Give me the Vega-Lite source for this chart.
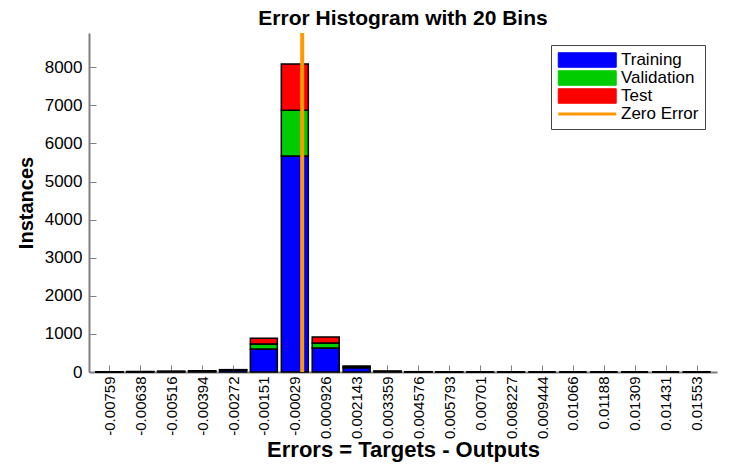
{
  "$schema": "https://vega.github.io/schema/vega-lite/v6.json",
  "autosize": "none",
  "width": 628,
  "height": 339,
  "padding": {"left": 89, "top": 33, "right": 21, "bottom": 98},
  "background": "white",
  "config": {
    "view": {"stroke": null},
    "font": "Liberation Sans"
  },
  "title": {
    "text": "Error Histogram with 20 Bins",
    "font": "Liberation Sans",
    "fontSize": 21,
    "fontWeight": "bold",
    "color": "black",
    "offset": 2
  },
  "datasets": {
    "bins": [
      {"x": -0.00759, "set": "Training", "count": 6, "ord": 1},
      {"x": -0.00759, "set": "Validation", "count": 1, "ord": 2},
      {"x": -0.00759, "set": "Test", "count": 1, "ord": 3},
      {"x": -0.00638, "set": "Training", "count": 7, "ord": 1},
      {"x": -0.00638, "set": "Validation", "count": 2, "ord": 2},
      {"x": -0.00638, "set": "Test", "count": 1, "ord": 3},
      {"x": -0.00516, "set": "Training", "count": 12, "ord": 1},
      {"x": -0.00516, "set": "Validation", "count": 3, "ord": 2},
      {"x": -0.00516, "set": "Test", "count": 2, "ord": 3},
      {"x": -0.00394, "set": "Training", "count": 22, "ord": 1},
      {"x": -0.00394, "set": "Validation", "count": 5, "ord": 2},
      {"x": -0.00394, "set": "Test", "count": 5, "ord": 3},
      {"x": -0.00272, "set": "Training", "count": 45, "ord": 1},
      {"x": -0.00272, "set": "Validation", "count": 9, "ord": 2},
      {"x": -0.00272, "set": "Test", "count": 8, "ord": 3},
      {"x": -0.00151, "set": "Training", "count": 604, "ord": 1},
      {"x": -0.00151, "set": "Validation", "count": 131, "ord": 2},
      {"x": -0.00151, "set": "Test", "count": 149, "ord": 3},
      {"x": -0.00029, "set": "Training", "count": 5670, "ord": 1},
      {"x": -0.00029, "set": "Validation", "count": 1200, "ord": 2},
      {"x": -0.00029, "set": "Test", "count": 1215, "ord": 3},
      {"x": 0.000926, "set": "Training", "count": 630, "ord": 1},
      {"x": 0.000926, "set": "Validation", "count": 131, "ord": 2},
      {"x": 0.000926, "set": "Test", "count": 158, "ord": 3},
      {"x": 0.002143, "set": "Training", "count": 110, "ord": 1},
      {"x": 0.002143, "set": "Validation", "count": 22, "ord": 2},
      {"x": 0.002143, "set": "Test", "count": 25, "ord": 3},
      {"x": 0.003359, "set": "Training", "count": 15, "ord": 1},
      {"x": 0.003359, "set": "Validation", "count": 3, "ord": 2},
      {"x": 0.003359, "set": "Test", "count": 3, "ord": 3},
      {"x": 0.004576, "set": "Training", "count": 6, "ord": 1},
      {"x": 0.004576, "set": "Validation", "count": 1, "ord": 2},
      {"x": 0.004576, "set": "Test", "count": 1, "ord": 3},
      {"x": 0.005793, "set": "Training", "count": 2, "ord": 1},
      {"x": 0.005793, "set": "Validation", "count": 0, "ord": 2},
      {"x": 0.005793, "set": "Test", "count": 1, "ord": 3},
      {"x": 0.00701, "set": "Training", "count": 1, "ord": 1},
      {"x": 0.00701, "set": "Validation", "count": 0, "ord": 2},
      {"x": 0.00701, "set": "Test", "count": 0, "ord": 3},
      {"x": 0.008227, "set": "Training", "count": 1, "ord": 1},
      {"x": 0.008227, "set": "Validation", "count": 0, "ord": 2},
      {"x": 0.008227, "set": "Test", "count": 0, "ord": 3},
      {"x": 0.009444, "set": "Training", "count": 0, "ord": 1},
      {"x": 0.009444, "set": "Validation", "count": 0, "ord": 2},
      {"x": 0.009444, "set": "Test", "count": 0, "ord": 3},
      {"x": 0.01066, "set": "Training", "count": 0, "ord": 1},
      {"x": 0.01066, "set": "Validation", "count": 0, "ord": 2},
      {"x": 0.01066, "set": "Test", "count": 0, "ord": 3},
      {"x": 0.01188, "set": "Training", "count": 0, "ord": 1},
      {"x": 0.01188, "set": "Validation", "count": 0, "ord": 2},
      {"x": 0.01188, "set": "Test", "count": 0, "ord": 3},
      {"x": 0.01309, "set": "Training", "count": 0, "ord": 1},
      {"x": 0.01309, "set": "Validation", "count": 0, "ord": 2},
      {"x": 0.01309, "set": "Test", "count": 0, "ord": 3},
      {"x": 0.01431, "set": "Training", "count": 0, "ord": 1},
      {"x": 0.01431, "set": "Validation", "count": 0, "ord": 2},
      {"x": 0.01431, "set": "Test", "count": 0, "ord": 3},
      {"x": 0.01553, "set": "Training", "count": 1, "ord": 1},
      {"x": 0.01553, "set": "Validation", "count": 0, "ord": 2},
      {"x": 0.01553, "set": "Test", "count": 0, "ord": 3}
    ],
    "zero": [{"x": 0, "set": "Zero Error"}]
  },
  "encoding": {
    "x": {
      "field": "x",
      "type": "quantitative",
      "scale": {"domain": [-0.0081984, 0.0161384], "nice": false, "zero": false},
      "axis": {
        "values": [-0.00759, -0.00638, -0.00516, -0.00394, -0.00272, -0.00151, -0.00029, 0.000926, 0.002143, 0.003359, 0.004576, 0.005793, 0.00701, 0.008227, 0.009444, 0.01066, 0.01188, 0.01309, 0.01431, 0.01553],
        "labelExpr": "'' + datum.value",
        "labelAngle": -90,
        "labelAlign": "right",
        "labelBaseline": "middle",
        "labelFont": "Liberation Sans",
        "labelFontSize": 15,
        "labelColor": "black",
        "labelPadding": 11,
        "labelOverlap": false,
        "labelFlush": false,
        "labelBound": false,
        "labelLimit": 200,
        "tickSize": -7,
        "tickColor": "#808080",
        "domainColor": "#808080",
        "domainWidth": 2,
        "grid": false,
        "title": "Errors = Targets - Outputs",
        "titleFont": "Liberation Sans",
        "titleFontSize": 22,
        "titleFontWeight": "bold",
        "titleColor": "black",
        "titlePadding": 1
      }
    },
    "color": {
      "field": "set",
      "type": "nominal",
      "scale": {
        "domain": ["Training", "Validation", "Test", "Zero Error"],
        "range": ["#0000ff", "#00cc00", "#ff0000", "#ff9900"]
      },
      "legend": {
        "title": null,
        "orient": "top-right",
        "offset": 12,
        "padding": 6,
        "fillColor": "white",
        "strokeColor": "#444444",
        "labelFont": "Liberation Sans",
        "labelFontSize": 17,
        "labelColor": "black",
        "labelOffset": 47,
        "rowPadding": 0,
        "clipHeight": 18,
        "symbolSize": 210,
        "symbolType": "M-1,-1H7V1H-1Z",
        "encode": {
          "symbols": {
            "update": {
              "shape": {"signal": "datum.value === 'Zero Error' ? 'M-1,0H7' : 'M-1,-1H7V1H-1Z'"},
              "stroke": {"signal": "datum.value === 'Zero Error' ? '#ff9900' : 'black'"},
              "strokeWidth": {"signal": "datum.value === 'Zero Error' ? 3 : 1"},
              "opacity": {"value": 1}
            }
          }
        }
      }
    }
  },
  "layer": [
    {
      "data": {"name": "bins"},
      "mark": {"type": "bar", "width": 27, "stroke": "black", "strokeWidth": 1.5},
      "encoding": {
        "y": {
          "field": "count",
          "type": "quantitative",
          "stack": "zero",
          "scale": {"domain": [0, 8900], "nice": false},
          "axis": {
            "values": [0, 1000, 2000, 3000, 4000, 5000, 6000, 7000, 8000],
            "format": "d",
            "labelFont": "Liberation Sans",
            "labelFontSize": 17,
            "labelColor": "black",
            "labelPadding": 14,
            "tickSize": -7,
            "tickColor": "#808080",
            "domainColor": "#808080",
            "domainWidth": 2,
            "grid": false,
            "title": "Instances",
            "titleFont": "Liberation Sans",
            "titleFontSize": 20,
            "titleFontWeight": "bold",
            "titleColor": "black",
            "titlePadding": 8
          }
        },
        "order": {"field": "ord", "type": "quantitative"}
      }
    },
    {
      "data": {"name": "zero"},
      "mark": {"type": "rule", "strokeWidth": 4}
    }
  ]
}
